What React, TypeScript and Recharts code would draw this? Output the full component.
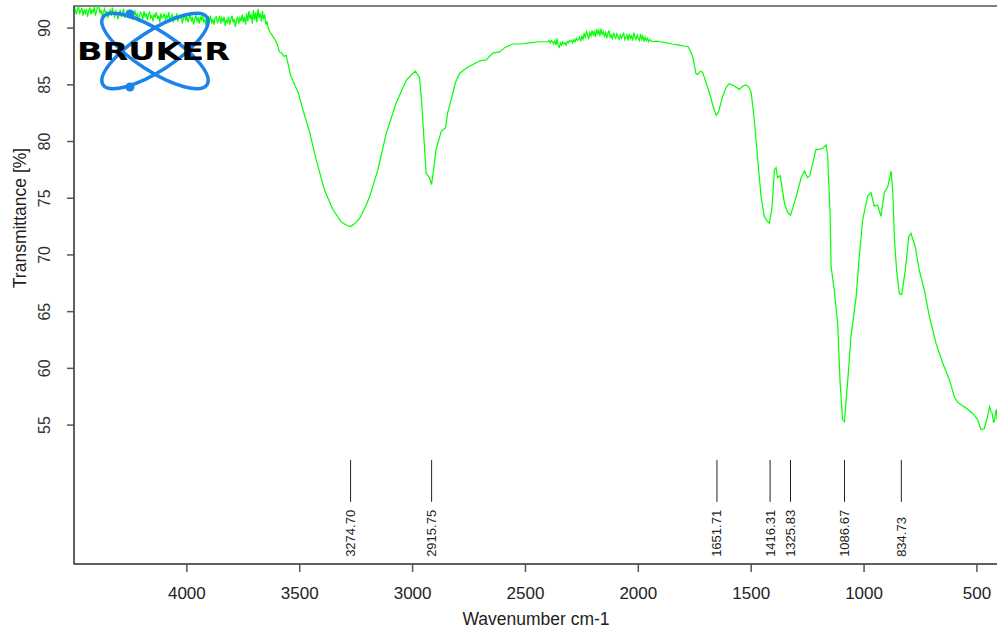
import React from 'react'
import {
  ComposedChart,
  Line,
  Scatter,
  XAxis,
  YAxis,
  ReferenceLine,
  ReferenceArea
} from 'recharts'

// spectrum, wavenumber (cm-1) -> transmittance (%)
const wavenumbers = [
  // noisy baseline, 4500-3640
  4500, 4495, 4490, 4485, 4480, 4475, 4470, 4465, 4460, 4455,
  4450, 4445, 4440, 4435, 4430, 4425, 4420, 4415, 4410, 4405,
  4400, 4395, 4390, 4385, 4380, 4375, 4370, 4365, 4360, 4355,
  4350, 4345, 4340, 4335, 4330, 4325, 4320, 4315, 4310, 4305,
  4300, 4295, 4290, 4285, 4280, 4275, 4270, 4265, 4260, 4255,
  4250, 4245, 4240, 4235, 4230, 4225, 4220, 4215, 4210, 4205,
  4200, 4195, 4190, 4185, 4180, 4175, 4170, 4165, 4160, 4155,
  4150, 4145, 4140, 4135, 4130, 4125, 4120, 4115, 4110, 4105,
  4100, 4095, 4090, 4085, 4080, 4075, 4070, 4065, 4060, 4055,
  4050, 4045, 4040, 4035, 4030, 4025, 4020, 4015, 4010, 4005,
  4000, 3995, 3990, 3985, 3980, 3975, 3970, 3965, 3960, 3955,
  3950, 3945, 3940, 3935, 3930, 3925, 3920, 3915, 3910, 3905,
  3900, 3895, 3890, 3885, 3880, 3875, 3870, 3865, 3860, 3855,
  3850, 3845, 3840, 3835, 3830, 3825, 3820, 3815, 3810, 3805,
  3800, 3795, 3790, 3785, 3780, 3775, 3770, 3765, 3760, 3755,
  3750, 3745, 3740, 3735, 3730, 3725, 3720, 3715, 3710, 3705,
  3700, 3695, 3690, 3685, 3680, 3675, 3670, 3665, 3660, 3655,
  3650, 3645, 3640,
  // O-H / C-H region, 3630-2408
  3630, 3620, 3610, 3600, 3590, 3580, 3570, 3560, 3540, 3520,
  3508, 3486, 3457, 3427, 3390, 3353, 3316, 3290, 3275, 3260,
  3235, 3210, 3191, 3154, 3117, 3073, 3028, 3000, 2987, 2969,
  2960, 2955, 2940, 2925, 2916, 2905, 2896, 2873, 2854, 2845,
  2829, 2810, 2792, 2760, 2733, 2704, 2674, 2645, 2615, 2590,
  2556, 2520, 2482, 2440, 2408,
  // noisy plateau, 2400-1940
  2400, 2395, 2390, 2385, 2380, 2375, 2370, 2365, 2360, 2355,
  2350, 2345, 2340, 2335, 2330, 2325, 2320, 2315, 2310, 2305,
  2300, 2295, 2290, 2285, 2280, 2275, 2270, 2265, 2260, 2255,
  2250, 2245, 2240, 2235, 2230, 2225, 2220, 2215, 2210, 2205,
  2200, 2195, 2190, 2185, 2180, 2175, 2170, 2165, 2160, 2155,
  2150, 2145, 2140, 2135, 2130, 2125, 2120, 2115, 2110, 2105,
  2100, 2095, 2090, 2085, 2080, 2075, 2070, 2065, 2060, 2055,
  2050, 2045, 2040, 2035, 2030, 2025, 2020, 2015, 2010, 2005,
  2000, 1995, 1990, 1985, 1980, 1975, 1970, 1965, 1960, 1955,
  1950, 1945, 1940,
  // fingerprint region, 1920-406
  1920, 1900, 1877, 1850, 1818, 1795, 1781, 1770, 1759, 1745,
  1737, 1725, 1715, 1700, 1685, 1670, 1655, 1645, 1626, 1610,
  1597, 1575, 1552, 1537, 1523, 1510, 1500,
  1486, 1471, 1456, 1442, 1430, 1420, 1409, 1400, 1397, 1390, 1383, 1372, 1362, 1353, 1340, 1326,
  1315, 1301, 1279, 1264, 1250, 1240, 1227, 1213, 1200, 1183, 1168, 1161, 1157, 1150, 1146, 1132,
  1117, 1106, 1095, 1087, 1073, 1058, 1035, 1021, 1006, 984, 969, 955, 940, 925, 910, 895,
  880, 873, 866, 856, 844, 835, 832, 817, 802, 792, 773, 756, 733, 711, 681, 652,
  622, 600, 585, 570, 548, 518, 497, 482, 467, 455, 444, 438, 432, 426, 421, 418,
  414, 410, 406
]

const transmittance = [
  // noisy baseline, 4500-3640
  91.4, 91.7, 91.2, 91.6, 91.9, 91.3, 91.5, 91.8, 91.1, 91.6,
  91.3, 91.7, 91.0, 91.5, 91.8, 91.2, 91.6, 91.4, 91.9, 91.1,
  91.5, 91.9, 92.0, 91.3, 91.6, 91.0, 91.4, 91.7, 91.2, 91.5,
  90.9, 91.4, 91.6, 91.1, 91.8, 91.3, 91.0, 91.5, 91.2, 90.8,
  91.3, 91.6, 91.0, 91.4, 91.7, 90.9, 91.2, 91.5, 91.1, 91.6,
  91.0, 91.4, 90.7, 91.2, 91.5, 91.0, 91.3, 90.6, 91.1, 91.4,
  91.2, 90.8, 91.5, 91.0, 91.3, 90.7, 91.2, 91.4, 90.9, 91.1,
  90.6, 91.2, 91.0, 91.4, 90.8, 91.1, 90.5, 91.3, 90.9, 91.0,
  91.3, 90.7, 91.1, 90.9, 91.4, 90.6, 91.0, 91.2, 90.5, 91.0,
  90.8, 91.3, 90.6, 91.1, 90.9, 91.2, 90.4, 90.9, 91.1, 90.7,
  91.0, 90.5, 90.9, 91.2, 90.6, 91.0, 90.3, 90.8, 91.1, 90.6,
  90.9, 90.4, 91.0, 90.7, 91.2, 90.5, 90.8, 90.2, 90.9, 91.0,
  90.6, 91.1, 90.4, 90.8, 90.3, 90.9, 91.0, 90.5, 90.7, 91.1,
  90.4, 90.9, 90.6, 91.0, 90.2, 90.7, 90.5, 91.0, 90.3, 90.8,
  91.1, 90.5, 90.8, 90.1, 90.7, 91.0, 90.4, 90.9, 90.6, 91.2,
  90.5, 91.0, 90.3, 91.3, 90.6, 91.5, 90.8, 91.2, 90.4, 91.6,
  90.7, 91.4, 90.5, 91.7, 90.9, 91.3, 90.6, 91.5, 90.8, 91.2,
  90.3, 90.6, 90.0,
  // O-H / C-H region, 3630-2408
  89.6, 89.3, 89.0, 88.6, 87.9, 87.8, 87.5, 87.6, 85.8, 84.9,
  84.4, 82.8, 80.9, 78.4, 75.7, 74.0, 72.9, 72.6, 72.5, 72.7,
  73.2, 74.2, 75.1, 77.5, 80.7, 83.4, 85.4, 86.0, 86.2, 85.6,
  83.5, 81.9, 77.2, 76.8, 76.2, 77.8, 79.3, 80.9, 81.2, 82.5,
  83.7, 85.2, 86.0, 86.5, 86.8, 87.1, 87.2, 87.8, 87.9, 88.3,
  88.6, 88.6, 88.7, 88.8, 88.8,
  // noisy plateau, 2400-1940
  88.8, 88.9, 88.7, 88.9, 88.8, 88.6, 88.9, 88.5, 89.1, 88.4,
  88.3, 88.7, 88.5, 88.8, 88.6, 88.7, 88.5, 88.8, 88.7, 88.9,
  88.8, 88.9, 88.7, 89.0, 88.8, 89.1, 88.9, 89.0, 89.2, 88.9,
  89.3, 89.0, 89.5, 89.2, 89.7, 89.4, 89.1, 89.6, 89.3, 89.8,
  89.4, 89.7, 89.2, 89.9, 89.5, 89.8, 89.3, 89.95, 89.4, 89.7,
  89.3, 89.6, 89.1, 89.5, 89.8, 89.2, 89.4, 89.0, 89.6, 89.3,
  89.1, 89.5, 89.2, 89.0, 89.4, 89.1, 89.3, 89.6, 89.0, 89.2,
  89.4, 88.9, 89.5, 89.1, 89.3, 88.9, 89.6, 89.2, 89.0, 89.4,
  89.1, 88.9, 89.5, 89.0, 89.3, 88.8, 89.2, 88.9, 89.1, 88.8,
  89.0, 88.9, 88.8,
  // fingerprint region, 1920-406
  88.85, 88.8, 88.7, 88.6, 88.5, 88.4, 88.4, 88.0, 87.5, 86.0,
  85.9, 86.2, 86.1, 85.2, 84.3, 83.2, 82.3, 82.6, 84.0, 84.8,
  85.1, 84.9, 84.6, 84.9, 85.0, 84.8, 84.3,
  81.9, 78.4, 75.1, 73.4, 73.0, 72.8, 74.0, 76.5, 77.5, 77.7, 76.8, 77.0, 75.8, 74.6, 73.8, 73.5,
  74.2, 75.1, 76.8, 77.4, 76.8, 77.0, 78.1, 79.3, 79.3, 79.4, 79.7, 78.7, 76.6, 73.4, 69.0, 66.9,
  64.0, 58.7, 55.5, 55.3, 58.7, 62.8, 66.3, 69.9, 73.1, 75.2, 75.5, 74.3, 74.4, 73.4, 75.5, 76.0,
  77.4, 75.7, 71.6, 68.7, 66.6, 66.5, 66.6, 68.7, 71.6, 71.9, 70.7, 68.7, 66.9, 64.6, 62.2, 60.5,
  59.0, 57.5, 57.0, 56.8, 56.5, 56.0, 55.5, 54.6, 54.7, 55.6, 56.6, 56.2, 56.0, 55.2, 55.5, 56.0,
  56.4, 55.4, 56.2
]

const peakPositions = [3274.7, 2915.75, 1651.71, 1416.31, 1325.83, 1086.67, 834.73]

const xTicks = [4000, 3500, 3000, 2500, 2000, 1500, 1000, 500]
const yTicks = [55, 60, 65, 70, 75, 80, 85, 90]

const X_DOMAIN: [number, number] = [380, 4500]
const Y_DOMAIN: [number, number] = [42.75, 91.95]

// stick markers sit in the empty band below the spectrum
const STICK_TOP = 51.93
const STICK_BOTTOM = 48.23
const PEAK_LABEL_Y = 43.38

const FONT = '"Liberation Sans", Arial, sans-serif'
const AXIS_COLOR = '#555'

const spectrum = wavenumbers.map((wn, i) => ({ wn, t: transmittance[i] }))
const peakLabels = peakPositions.map((wn) => ({ wn, t: PEAK_LABEL_Y }))

const YTick = ({ x, y, payload }: any) => (
  <text
    x={x - 15}
    y={y}
    transform={`rotate(-90 ${x - 15} ${y})`}
    textAnchor="middle"
    fontSize={16}
    fontFamily={FONT}
    fill="#333"
  >
    {payload.value}
  </text>
)

const PeakLabel = ({ cx, cy, payload }: any) => (
  <text
    x={cx + 4.5}
    y={cy}
    transform={`rotate(-90 ${cx + 4.5} ${cy})`}
    textAnchor="start"
    fontSize={13}
    fontFamily={FONT}
    fill="#222"
  >
    {payload.wn.toFixed(2)}
  </text>
)

function BrukerLogo() {
  return (
    <svg
      width={260}
      height={100}
      style={{ position: 'absolute', left: 0, top: 0, pointerEvents: 'none' }}
    >
      <g fill="none" stroke="#1a84ea" strokeWidth={3.5}>
        <ellipse cx={155} cy={51} rx={62} ry={20} transform="rotate(33 155 51)" />
        <ellipse cx={155} cy={51} rx={62} ry={20} transform="rotate(-33 155 51)" />
      </g>
      <circle cx={130} cy={14} r={4.5} fill="#1a84ea" />
      <circle cx={130} cy={87} r={4.5} fill="#1a84ea" />
      <text
        x={77}
        y={60}
        fontSize={25}
        fontWeight="bold"
        fontFamily='"DejaVu Sans", sans-serif'
        textLength={153}
        lengthAdjust="spacingAndGlyphs"
        fill="#000"
      >
        BRUKER
      </text>
    </svg>
  )
}

export default function App() {
  return (
    <div
      style={{
        position: 'absolute',
        left: 0,
        top: 0,
        width: 997,
        height: 636,
        overflow: 'hidden',
        background: '#fff'
      }}
    >
      <ComposedChart
        width={1010}
        height={636}
        data={spectrum}
        margin={{ top: 6, right: 6, bottom: 0, left: 0 }}
      >
        <XAxis
          dataKey="wn"
          type="number"
          domain={X_DOMAIN}
          reversed
          allowDataOverflow
          ticks={xTicks}
          height={72}
          tickSize={8}
          tickMargin={15}
          stroke={AXIS_COLOR}
          strokeWidth={1.5}
          tick={{ fontSize: 17, fontFamily: FONT, fill: '#222' }}
          label={() => (
            <text x={536} y={625} textAnchor="middle" fontSize={17.5} fontFamily={FONT} fill="#222">
              Wavenumber cm-1
            </text>
          )}
        />
        <YAxis
          type="number"
          domain={Y_DOMAIN}
          allowDataOverflow
          ticks={yTicks}
          width={74}
          tickSize={7}
          tickMargin={2}
          stroke={AXIS_COLOR}
          strokeWidth={1.5}
          tick={<YTick />}
          label={() => (
            <text
              x={26}
              y={218}
              transform="rotate(-90 26 218)"
              textAnchor="middle"
              fontSize={17.5}
              fontFamily={FONT}
              fill="#222"
            >
              Transmittance [%]
            </text>
          )}
        />
        <ReferenceArea
          x1={X_DOMAIN[1]}
          x2={X_DOMAIN[0]}
          y1={Y_DOMAIN[0]}
          y2={Y_DOMAIN[1]}
          fill="none"
          stroke={AXIS_COLOR}
          strokeWidth={1.5}
        />
        <Line
          dataKey="t"
          type="linear"
          stroke="#00ff00"
          strokeWidth={1.2}
          dot={false}
          activeDot={false}
          isAnimationActive={false}
        />
        {peakPositions.map((wn) => (
          <ReferenceLine
            key={wn}
            segment={[
              { x: wn, y: STICK_BOTTOM },
              { x: wn, y: STICK_TOP }
            ]}
            stroke="#222"
            strokeWidth={1}
          />
        ))}
        <Scatter data={peakLabels} dataKey="t" shape={<PeakLabel />} isAnimationActive={false} />
      </ComposedChart>
      <BrukerLogo />
    </div>
  )
}
